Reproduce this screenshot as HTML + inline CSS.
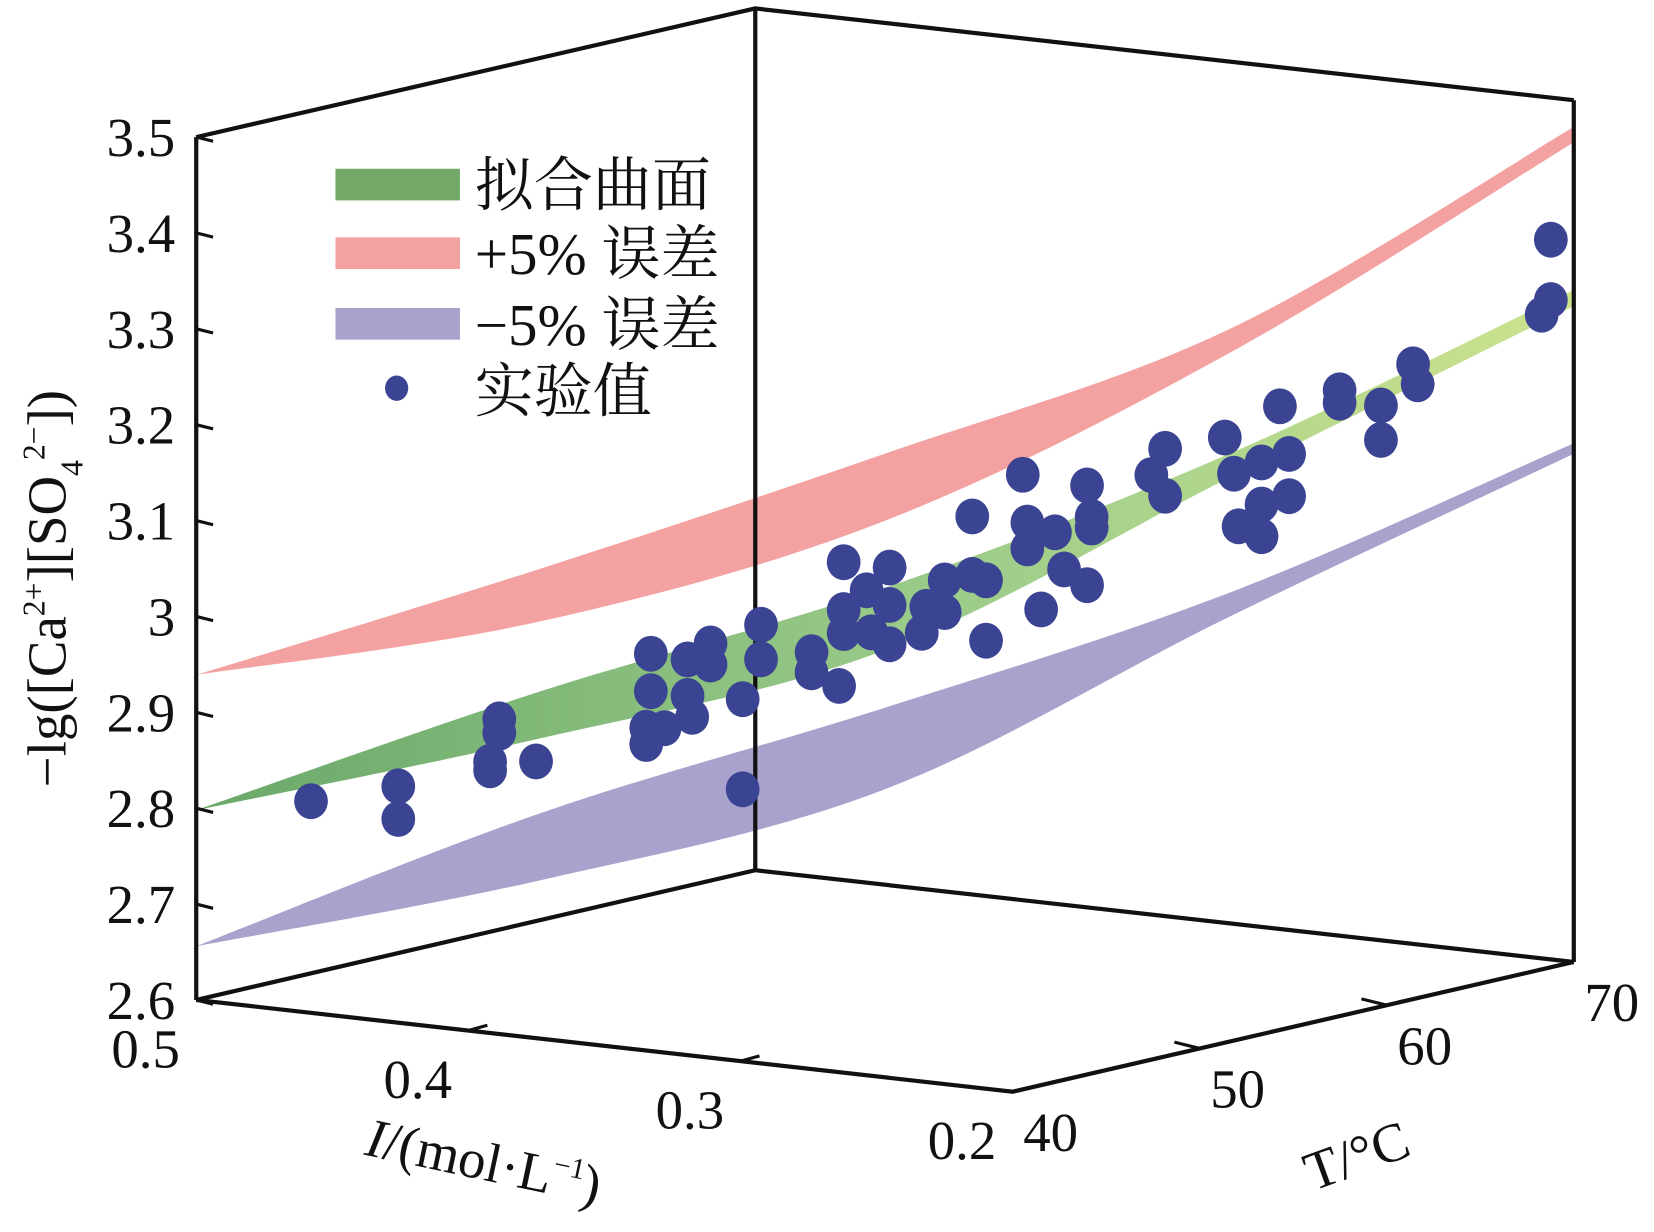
<!DOCTYPE html>
<html><head><meta charset="utf-8"><style>
html,body{margin:0;padding:0;background:#fff;}
svg{display:block;}
.num{font-family:"Liberation Serif",serif;font-size:52px;fill:#111;}
.cjk{font-family:"Liberation Serif","Noto Serif CJK SC",serif;font-size:56px;fill:#111;}
</style></head><body>
<svg id="chart" width="1654" height="1232" viewBox="0 0 1568 1168" xmlns="http://www.w3.org/2000/svg">
<g id="surfaces"></g>
<g id="box" stroke="#111" stroke-width="4" fill="none">
<polyline points="186,130 716,8 1492,95"/>
<line x1="186" y1="130" x2="186" y2="948"/>
<line x1="716" y1="8" x2="716" y2="825"/>
<line x1="1492" y1="95" x2="1492" y2="912"/>
<polyline points="186,948 716,825 1492,912"/>
<polyline points="186,948 960,1035 1492,912"/>
</g>
<g id="ticks" stroke="#111" stroke-width="3"></g>
<g id="points"></g>
<g id="labels"></g>
<text class="num" transform="translate(62,558) rotate(-90)" text-anchor="middle" font-size="54">−lg([Ca<tspan font-size="30" dy="-20">2+</tspan><tspan dy="20">][SO</tspan><tspan font-size="30" dy="16">4</tspan><tspan font-size="30" dy="-36">2−</tspan><tspan dy="20">])</tspan></text>
<text class="num" transform="translate(455,1118) rotate(12)" text-anchor="middle"><tspan font-style="italic">I</tspan>/(mol·L<tspan font-size="28" dy="-20">−1</tspan><tspan dy="20">)</tspan></text>
<text class="num" transform="translate(1292,1112) rotate(-20)" text-anchor="middle">T/°C</text>
<g>
<rect x="318" y="160" width="118" height="30" fill="#72a868"/>
<text class="cjk" x="450" y="195">拟合曲面</text>
<rect x="318" y="225" width="118" height="30" fill="#f4a1a1"/>
<text class="cjk" x="450" y="260">+5% 误差</text>
<rect x="318" y="292" width="118" height="30" fill="#a8a2cc"/>
<text class="cjk" x="450" y="327">−5% 误差</text>
<ellipse cx="376" cy="368" rx="11" ry="12" fill="#3b4393"/>
<text class="cjk" x="450" y="390">实验值</text>
</g>
</svg>
<script>
// data
const ptI=[.475,.456,.456,.434,.434,.436,.436,.426,.401,.401,.402,.402,.398,.393,.392,.393,.388,.388,.381,.381,.377,.377,.366,.366,.360,.359,.359,.359,.354,.353,.349,.349,.349,.342,.341,.337,.337,.331,.331,.328,.328,.320,.319,.319,.316,.313,.311,.306,.306,.305,.305,.292,.289,.289,.276,.274,.273,.268,.268,.268,.264,.262,.262,.251,.251,.242,.242,.235,.234,.207,.205,.205];
const ptT=[42.5,44.4,44.4,46.6,46.6,46.4,46.4,47.4,49.9,49.9,49.8,49.8,50.2,50.7,50.8,50.7,51.2,51.2,51.9,51.9,52.3,52.3,53.4,53.4,54.0,54.1,54.1,54.1,54.6,54.7,55.1,55.1,55.1,55.8,55.9,56.3,56.3,56.9,56.9,57.2,57.2,58.0,58.1,58.1,58.4,58.7,58.9,59.4,59.4,59.5,59.5,60.8,61.1,61.1,62.4,62.6,62.7,63.2,63.2,63.2,63.6,63.8,63.8,64.9,64.9,65.8,65.8,66.5,66.6,69.3,69.5,69.5];
const ptZ=[2.804,2.817,2.783,2.884,2.870,2.840,2.831,2.839,2.948,2.909,2.871,2.854,2.870,2.941,2.881,2.903,2.957,2.935,2.898,2.804,2.975,2.939,2.945,2.924,2.909,3.038,2.988,2.964,3.008,2.964,3.031,2.992,2.951,2.962,2.989,3.016,2.983,3.082,3.021,3.015,2.952,3.124,3.074,3.047,2.983,3.063,3.024,3.007,3.111,3.078,3.067,3.120,3.147,3.098,3.157,3.119,3.064,3.130,3.053,3.086,3.188,3.138,3.094,3.203,3.190,3.186,3.150,3.228,3.207,3.276,3.291,3.354];
// surfaces sampled along diagonal (I from 0.5 to 0.2, T from 40 to 70)
const surfI=[.5,.425,.35,.275,.2];
const surfT=[40,47.5,55,62.5,70];
const fitUpper=[2.798,2.912,3.010,3.140,3.301];
const fitLower=[2.798,2.863,2.945,3.115,3.284];
const plusUpper=[2.939,3.040,3.150,3.270,3.471];
const plusLower=[2.939,2.985,3.080,3.245,3.455];
const minusUpper=[2.656,2.785,2.885,2.995,3.141];
const minusLower=[2.656,2.715,2.800,2.970,3.130];
const zTicks=[2.6,2.7,2.8,2.9,3.0,3.1,3.2,3.3,3.4,3.5];
const zTickLabels=["2.6","2.7","2.8","2.9","3","3.1","3.2","3.3","3.4","3.5"];
const iTicks=[0.5,0.4,0.3,0.2];
const iTickLabels=["0.5","0.4","0.3","0.2"];
const tTicks=[40,50,60,70];
const tTickLabels=["40","50","60","70"];

const NS="http://www.w3.org/2000/svg";
function proj(I,T,z){
  const a=(I-0.2)/0.3, b=(T-40)/30;
  return [960-774*a+532*b, 1035-87*a-123*b-(z-2.6)*909];
}
function mk(tag,attrs,parent){const e=document.createElementNS(NS,tag);for(const k in attrs)e.setAttribute(k,attrs[k]);parent.appendChild(e);return e;}
function smooth(pts){
  let d="M"+pts[0][0]+","+pts[0][1];
  for(let i=0;i<pts.length-1;i++){
    const p0=pts[Math.max(0,i-1)],p1=pts[i],p2=pts[i+1],p3=pts[Math.min(pts.length-1,i+2)];
    const c1=[p1[0]+(p2[0]-p0[0])/6,p1[1]+(p2[1]-p0[1])/6];
    const c2=[p2[0]-(p3[0]-p1[0])/6,p2[1]-(p3[1]-p1[1])/6];
    d+=" C"+c1[0]+","+c1[1]+" "+c2[0]+","+c2[1]+" "+p2[0]+","+p2[1];
  }
  return d;
}
function ribbon(up,lo,fill,name){
  const u=surfI.map((v,i)=>proj(v,surfT[i],up[i]));
  const l=surfI.map((v,i)=>proj(v,surfT[i],lo[i])).reverse();
  let d=smooth(u)+" L"+l[0][0]+","+l[0][1]+smooth(l).replace(/^M[^C]*/," ")+"Z";
  const p=mk("path",{d:d,fill:fill},document.getElementById("surfaces"));
  
  
}
const defs=mk("defs",{},document.getElementById("chart"));
const g=mk("linearGradient",{id:"gfit",x1:"0",y1:"0",x2:"1",y2:"0"},defs);
mk("stop",{offset:"0","stop-color":"#6aa86a"},g);
mk("stop",{offset:"0.55","stop-color":"#9ccc8a"},g);
mk("stop",{offset:"1","stop-color":"#cde38e"},g);
ribbon(plusUpper,plusLower,"#f4a1a1","plus-5-percent-surface");
ribbon(minusUpper,minusLower,"#a8a2cc","minus-5-percent-surface");
ribbon(fitUpper,fitLower,"url(#gfit)","fitted-surface");

const tk=document.getElementById("ticks"), lb=document.getElementById("labels"), pg=document.getElementById("points");
zTicks.forEach((z,i)=>{
  const p=proj(0.5,40,z);
  const l=mk("line",{x1:p[0],y1:p[1],x2:p[0]+16,y2:p[1]+4},tk);
  
  
  const t=mk("text",{x:p[0]-20,y:p[1]+18,"text-anchor":"end","class":"num"},lb);
  t.textContent=zTickLabels[i];
  
  
});
iTicks.forEach((v,i)=>{
  const p=proj(v,40,2.6);
  if(i>0&&i<iTicks.length-1){
    const l=mk("line",{x1:p[0],y1:p[1],x2:p[0]+18,y2:p[1]-5},tk);
    
    
  }
  const t=mk("text",{x:p[0]-48,y:p[1]+64,"text-anchor":"middle","class":"num"},lb);
  t.textContent=iTickLabels[i];
  
  
});
tTicks.forEach((v,i)=>{
  const p=proj(0.2,v,2.6);
  if(i>0&&i<tTicks.length-1){
    const l=mk("line",{x1:p[0],y1:p[1],x2:p[0]-24,y2:p[1]-6},tk);
    
    
  }
  const t=mk("text",{x:p[0]+36,y:p[1]+56,"text-anchor":"middle","class":"num"},lb);
  t.textContent=tTickLabels[i];
  
  
});
ptI.forEach((v,i)=>{
  const p=proj(v,ptT[i],ptZ[i]);
  const c=mk("ellipse",{cx:p[0],cy:p[1],rx:16,ry:17,fill:"#3b4393"},pg);
  
  
});
</script>
</body></html>
